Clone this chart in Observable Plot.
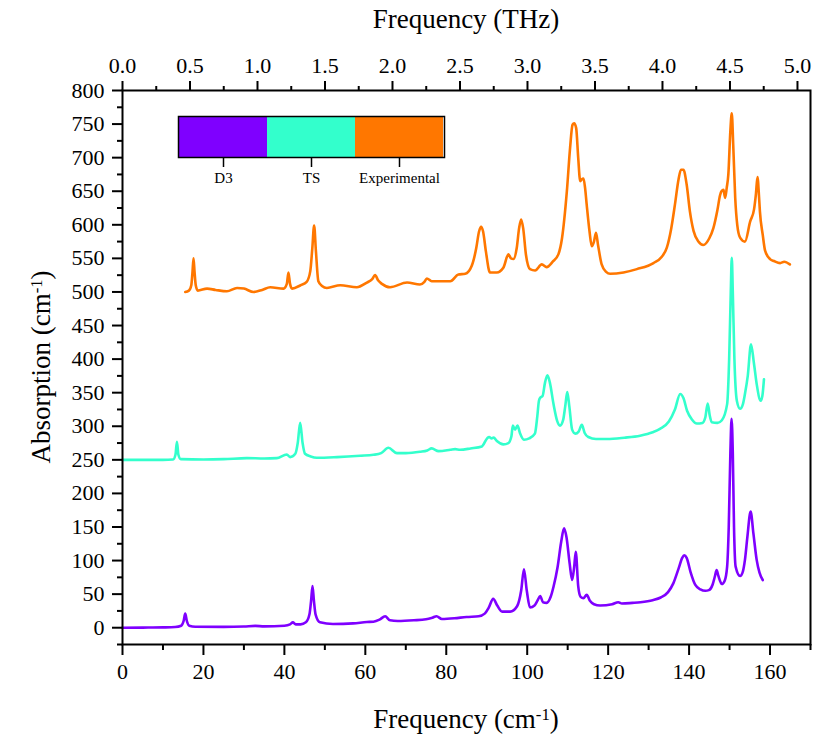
<!DOCTYPE html>
<html><head><meta charset="utf-8">
<script src="https://cdn.jsdelivr.net/npm/d3@7"></script>
<script src="https://cdn.jsdelivr.net/npm/@observablehq/plot@0.6"></script>
<style>
body{margin:0;background:#fff}
#wrap{position:relative;width:813px;height:738px}
#legend{position:absolute;left:177px;top:115px}
svg, svg text, svg g { font-family: "Times New Roman", "Liberation Serif", Tinos, "DejaVu Serif", serif !important; }
</style>
</head><body><div id="wrap"></div>
<script>
const seriesNames = ["D3", "TS", "Experimental"];
const seriesColors = ["#7f00ff", "#33ffcc", "#ff7700"];

// [frequency cm-1, absorption]
const d3Spectrum = [[0,0],[5,0.2],[10,0.5],[13,1],[14.5,3],[15.1,10],[15.5,21],[15.9,10],[16.5,3],[18,1.5],[25,1.3],[30,1.8],[32.8,2.8],[35,2],[40,3],[41.4,5],[42.1,8],[42.8,5],[44,5],[45.3,8],[46.2,20],[46.6,40],[46.95,62],[47.3,40],[47.7,20],[48.8,8],[52,5.5],[57,6.5],[60.4,8.5],[62,9],[63.5,12],[64.9,17],[66.1,11],[68,10],[72,11],[75,12.5],[76.6,15],[77.6,17],[78.9,13],[82,14],[85,16],[88,17],[89.5,21],[90.5,30],[91.6,43],[92.6,33],[93.8,24],[95.8,24],[97.5,32],[98.5,55],[99.2,87],[99.9,55],[100.7,30],[101.8,33],[102.5,40],[103.2,47],[103.9,38],[104.8,37],[105.8,46],[106.5,61],[107.5,90],[108.4,128],[109.1,148],[109.7,135],[110.5,95],[111.1,71],[111.6,90],[112,113],[112.6,62],[113.2,46],[113.9,44],[114.7,49],[115.5,40],[116.5,35],[118,33],[121,35],[122.5,38],[123.4,36],[126,37],[128,38],[131,41],[133,45],[134.8,53],[136.1,66],[137.4,88],[138.3,104],[138.8,108],[139.4,104],[140.4,82],[141.5,64],[142.8,57],[144,55],[144.9,56],[145.8,64],[146.4,77],[146.8,86],[147.2,78],[148.1,65],[148.8,70],[149.4,91],[149.8,150],[150.2,260],[150.5,311],[150.8,260],[151.1,150],[151.5,91],[152.6,77],[153.3,84],[153.8,101],[154.4,135],[155.2,173],[155.9,140],[156.7,101],[157.4,82],[158.2,71]];

const tsSpectrum = [[0,250],[5,250],[10,250],[12.5,250.5],[13.1,258],[13.45,277],[13.8,258],[14.4,251],[20,250.5],[25,251],[30.7,252.5],[35,252],[38.1,252.5],[40.6,258],[41.4,254],[42.7,259],[43.3,275],[43.9,305],[44.5,275],[45.1,259],[46.5,255],[48,253],[53,254],[58.7,256],[62,257.5],[63.9,260],[65.7,268],[67.8,260],[70,260],[73.5,262],[75.3,264],[76.4,267],[78.1,263],[81,265],[82.2,266],[83.4,265],[86,267],[88.8,270],[90.1,282],[90.6,284],[91.2,282],[91.7,283],[92.5,278],[94.1,273],[95.35,275],[96.1,285],[96.45,301],[97.0,295],[97.6,301],[98.2,290],[99.2,280],[100.5,282],[101.9,289],[102.5,315],[102.9,338],[103.3,343],[103.8,345],[104.4,365],[105.0,376],[105.6,365],[106.5,333],[107.4,308],[108.1,301],[108.9,310],[109.4,330],[109.9,351],[110.4,330],[111.1,295],[111.9,289],[112.7,292],[113.5,302],[114.2,290],[115.1,284],[117,281],[119.7,281],[124,283],[127.9,286],[131,291],[132.8,296],[135,307],[136.5,325],[137.8,348],[138.6,342],[139.5,323],[140.7,310],[141.9,304],[143.3,305],[144,313],[144.6,334],[145.1,316],[145.6,306],[147,305],[148.1,309],[149.4,333],[149.9,400],[150.3,500],[150.55,551],[150.8,500],[151.2,400],[151.8,338],[152.6,326],[153.3,333],[153.8,348],[154.5,375],[155.3,422],[156.0,395],[156.7,363],[157.7,338],[158.1,345],[158.5,370]];

const expSpectrum = [[15.5,500],[16.4,502],[17.0,510],[17.3,530],[17.55,550],[17.8,530],[18.1,510],[18.6,502],[20.9,505],[23,503],[25.8,501],[28.3,506],[30,505],[32.4,500],[34.5,503],[36.5,507],[39.8,505],[40.6,512],[41.0,529],[41.4,512],[41.9,505],[44,510],[45.5,515],[46.4,531],[46.9,565],[47.35,599],[47.8,560],[48.4,516],[49.3,509],[50.5,506],[53.8,510],[57.9,507],[60.4,514],[61.7,519],[62.4,525],[63.2,517],[64.1,512],[66.1,507],[70.3,514],[73.5,511],[74.6,515],[75.2,520],[76.4,516],[81,516],[83,526],[84.7,527],[86.3,539],[87.4,565],[88.1,590],[88.6,597],[89.1,590],[89.8,560],[90.8,529],[92.5,529],[94.1,536],[95.35,556],[96.0,550],[96.6,549],[97.4,565],[98.0,595],[98.5,608],[99.0,595],[99.7,555],[100.7,534],[101.95,532],[103.6,541],[104.8,537],[106.3,545],[107.7,556],[108.6,580],[109.8,650],[110.6,715],[111.2,749],[111.6,751],[112.1,744],[112.6,700],[113.1,665],[113.5,668],[113.9,669],[114.3,655],[114.7,630],[115.4,590],[115.96,568],[116.5,575],[117.0,588],[117.5,570],[118.4,541],[119.5,530],[120.5,527],[123.8,529],[127.1,534],[131.2,543],[133.2,552],[134.5,566],[135.6,595],[136.5,630],[137.4,668],[138.0,682],[138.6,682],[139.4,660],[140.2,620],[141.1,591],[142.3,575],[143.5,570],[145,580],[146.0,595],[147,622],[147.65,644],[148.0,650],[148.5,652],[148.9,640],[149.3,655],[149.7,675],[150.2,740],[150.55,766],[150.9,720],[151.4,640],[151.9,600],[152.6,581],[153.8,575],[155.1,605],[156.05,623],[156.5,645],[156.9,671],[157.3,640],[157.5,620],[158.2,585],[158.8,561],[160,549],[161,546],[162.5,543],[163.5,545],[164.9,541]];

const cmPerTHz = 33.356;
const thzMajor = [0.0,0.5,1.0,1.5,2.0,2.5,3.0,3.5,4.0,4.5,5.0];
const thzMinor = [0.25,0.75,1.25,1.75,2.25,2.75,3.25,3.75,4.25,4.75];
const xMajor = [0,20,40,60,80,100,120,140,160];
const xMinor = [10,30,50,70,90,110,130,150,170];
const yMajor = [0,50,100,150,200,250,300,350,400,450,500,550,600,650,700,750,800];
const yMinor = [-25,25,75,125,175,225,275,325,375,425,475,525,575,625,675,725,775];

const spectra = [d3Spectrum, tsSpectrum, expSpectrum];
const rows = spectra.flatMap((arr, i) => arr.map(([x, y]) => ({x, y, series: seriesNames[i]})));

const font = '"Times New Roman", "Liberation Serif", Tinos, "DejaVu Serif", serif';

const chart = Plot.plot({
  width: 813, height: 738,
  marginLeft: 122, marginRight: 3, marginTop: 90, marginBottom: 94,
  style: {fontFamily: font, background: "white", color: "black"},
  x: {domain: [0, 170], axis: null, label: null},
  y: {domain: [-25, 800], axis: null, label: null},
  color: {domain: seriesNames, range: seriesColors},
  marks: [
    Plot.line(rows, {x: "x", y: "y", z: "series", stroke: "series", strokeWidth: 2.6, curve: "monotone-x"}),
    Plot.frame({stroke: "black", strokeWidth: 2}),
    Plot.axisX(xMajor, {anchor: "bottom", tickSize: 11, tickPadding: 8, fontSize: 22, fontFamily: font, strokeWidth: 2, label: null}),
    Plot.axisX(xMinor, {anchor: "bottom", tickSize: 6, tickFormat: () => "", strokeWidth: 2, label: null}),
    Plot.axisX(thzMajor.map(t => t * cmPerTHz), {anchor: "top", tickSize: 10, tickPadding: 8, fontSize: 22, fontFamily: font, strokeWidth: 2, label: null, tickFormat: d => (d / cmPerTHz).toFixed(1)}),
    Plot.axisX(thzMinor.map(t => t * cmPerTHz), {anchor: "top", tickSize: 5, tickFormat: () => "", strokeWidth: 2, label: null}),
    Plot.axisY(yMajor, {anchor: "left", tickSize: 10, tickPadding: 8, fontSize: 22, fontFamily: font, strokeWidth: 2, label: null}),
    Plot.axisY(yMinor, {anchor: "left", tickSize: 5, tickFormat: () => "", strokeWidth: 2, label: null})
  ]
});

const wrap = document.getElementById("wrap");
wrap.appendChild(chart);

const svg = d3.select(chart);
function titleWithSup(sel, base, sup, tail) {
  sel.append("tspan").text(base);
  sel.append("tspan").attr("dy", "-0.45em").attr("font-size", "0.62em").text(sup);
  sel.append("tspan").attr("dy", "0.28em").text(tail);
}
const cx = (122 + 810) / 2;
svg.append("text").attr("x", cx).attr("y", 28).attr("text-anchor", "middle")
  .attr("font-size", 27).attr("font-family", font).attr("fill", "black").text("Frequency (THz)");
titleWithSup(svg.append("text").attr("x", cx).attr("y", 728).attr("text-anchor", "middle")
  .attr("font-size", 27).attr("font-family", font).attr("fill", "black"), "Frequency (cm", "-1", ")");
titleWithSup(svg.append("text").attr("transform", `translate(50,${(90 + 644) / 2}) rotate(-90)`).attr("text-anchor", "middle")
  .attr("font-size", 27).attr("font-family", font).attr("fill", "black"), "Absorption (cm", "-1", ")");

const legend = Plot.plot({
  width: 268, height: 80,
  marginLeft: 1, marginRight: 1, marginTop: 1, marginBottom: 38,
  style: {fontFamily: font, background: "transparent", color: "black", overflow: "visible"},
  x: {domain: seriesNames, type: "band", padding: 0, axis: null, label: null},
  color: {domain: seriesNames, range: seriesColors},
  marks: [
    Plot.cell(seriesNames, {x: d => d, fill: d => d, inset: 0}),
    Plot.frame({stroke: "black", strokeWidth: 1.5}),
    Plot.axisX({anchor: "bottom", tickSize: 10, tickPadding: 5, fontSize: 15, fontFamily: font, strokeWidth: 1.5, label: null})
  ]
});
const ldiv = document.createElement("div");
ldiv.id = "legend";
ldiv.appendChild(legend);
wrap.appendChild(ldiv);
</script>
</body></html>
